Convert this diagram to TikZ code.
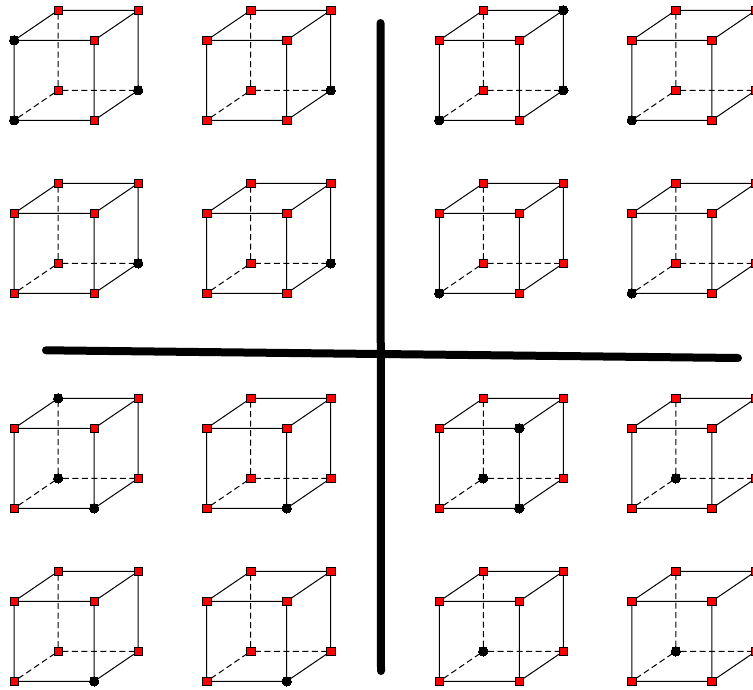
\documentclass[tikz,border=0pt]{standalone}
\tikzset{
  sq/.style={draw=black,fill=red,rectangle,line width=0.8pt,minimum size=8.4pt,inner sep=0pt,outer sep=0pt},
  dot/.style={draw=black,fill=black,circle,line width=0pt,minimum size=9.4pt,inner sep=0pt,outer sep=0pt},
  vFTL/.style=sq,vFTR/.style=sq,vFBL/.style=sq,vFBR/.style=sq,
  vBTL/.style=sq,vBTR/.style=sq,vBBL/.style=sq,vBBR/.style=sq,
  solidedge/.style={draw=black,line width=1pt},
  hiddenedge/.style={draw=black,line width=1pt,dash pattern=on 6pt off 3.5pt},
  bar/.style={draw=black,line width=8pt,line cap=round}
}
\newcommand{\cubeat}[1]{%
  \node[vFBL] (#1fbl) at (0,0) {};
  \node[vFBR] (#1fbr) at (80,0) {};
  \node[vFTL] (#1ftl) at (0,-80) {};
  \node[vFTR] (#1ftr) at (80,-80) {};
  \node[vBBL] (#1bbl) at (44,-30) {};
  \node[vBBR] (#1bbr) at (124,-30) {};
  \node[vBTL] (#1btl) at (44,-110) {};
  \node[vBTR] (#1btr) at (124,-110) {};
  \draw[solidedge] (#1fbl)--(#1fbr) (#1fbr)--(#1ftr) (#1ftr)--(#1ftl) (#1ftl)--(#1fbl)
    (#1ftl)--(#1btl) (#1btl)--(#1btr) (#1btr)--(#1ftr) (#1btr)--(#1bbr) (#1bbr)--(#1fbr);
  \draw[hiddenedge] (#1fbl)--(#1bbl) (#1bbl)--(#1bbr) (#1bbl)--(#1btl);
}
\begin{document}
\begin{tikzpicture}[x=1pt,y=-1pt]
\clip (0,0) rectangle (753,690);
\fill[white] (0,0) rectangle (753,690);
% row 1
\begin{scope}[shift={(14.2,120.3)},vFTL/.style=dot,vFBL/.style=dot,vBBR/.style=dot]\cubeat{a}\end{scope}
\begin{scope}[shift={(206.7,120.3)},vBBR/.style=dot]\cubeat{b}\end{scope}
\begin{scope}[shift={(439.3,120.3)},vBTR/.style=dot,vBBR/.style=dot,vFBL/.style=dot]\cubeat{c}\end{scope}
\begin{scope}[shift={(631.8,120.3)},vFBL/.style=dot]\cubeat{d}\end{scope}
% row 2
\begin{scope}[shift={(14.2,293.3)},vBBR/.style=dot]\cubeat{e}\end{scope}
\begin{scope}[shift={(206.7,293.3)},vBBR/.style=dot]\cubeat{f}\end{scope}
\begin{scope}[shift={(439.3,293.3)},vFBL/.style=dot]\cubeat{g}\end{scope}
\begin{scope}[shift={(631.8,293.3)},vFBL/.style=dot]\cubeat{h}\end{scope}
% row 3
\begin{scope}[shift={(14.2,508.3)},vBTL/.style=dot,vBBL/.style=dot,vFBR/.style=dot]\cubeat{i}\end{scope}
\begin{scope}[shift={(206.7,508.3)},vFBR/.style=dot]\cubeat{j}\end{scope}
\begin{scope}[shift={(439.3,508.3)},vFTR/.style=dot,vBBL/.style=dot,vFBR/.style=dot]\cubeat{k}\end{scope}
\begin{scope}[shift={(631.8,508.3)},vBBL/.style=dot]\cubeat{l}\end{scope}
% row 4
\begin{scope}[shift={(14.2,681.3)},vFBR/.style=dot]\cubeat{m}\end{scope}
\begin{scope}[shift={(206.7,681.3)},vFBR/.style=dot]\cubeat{n}\end{scope}
\begin{scope}[shift={(439.3,681.3)},vBBL/.style=dot]\cubeat{o}\end{scope}
\begin{scope}[shift={(631.8,681.3)},vBBL/.style=dot]\cubeat{p}\end{scope}
% separators
\coordinate (vtop) at (380.5,23);
\coordinate (vbot) at (381,671);
\coordinate (hleft) at (46,350.3);
\coordinate (hright) at (738,358);
\draw[bar] (vtop)--(vbot);
\draw[bar] (hleft)--(hright);
\end{tikzpicture}
\end{document}
